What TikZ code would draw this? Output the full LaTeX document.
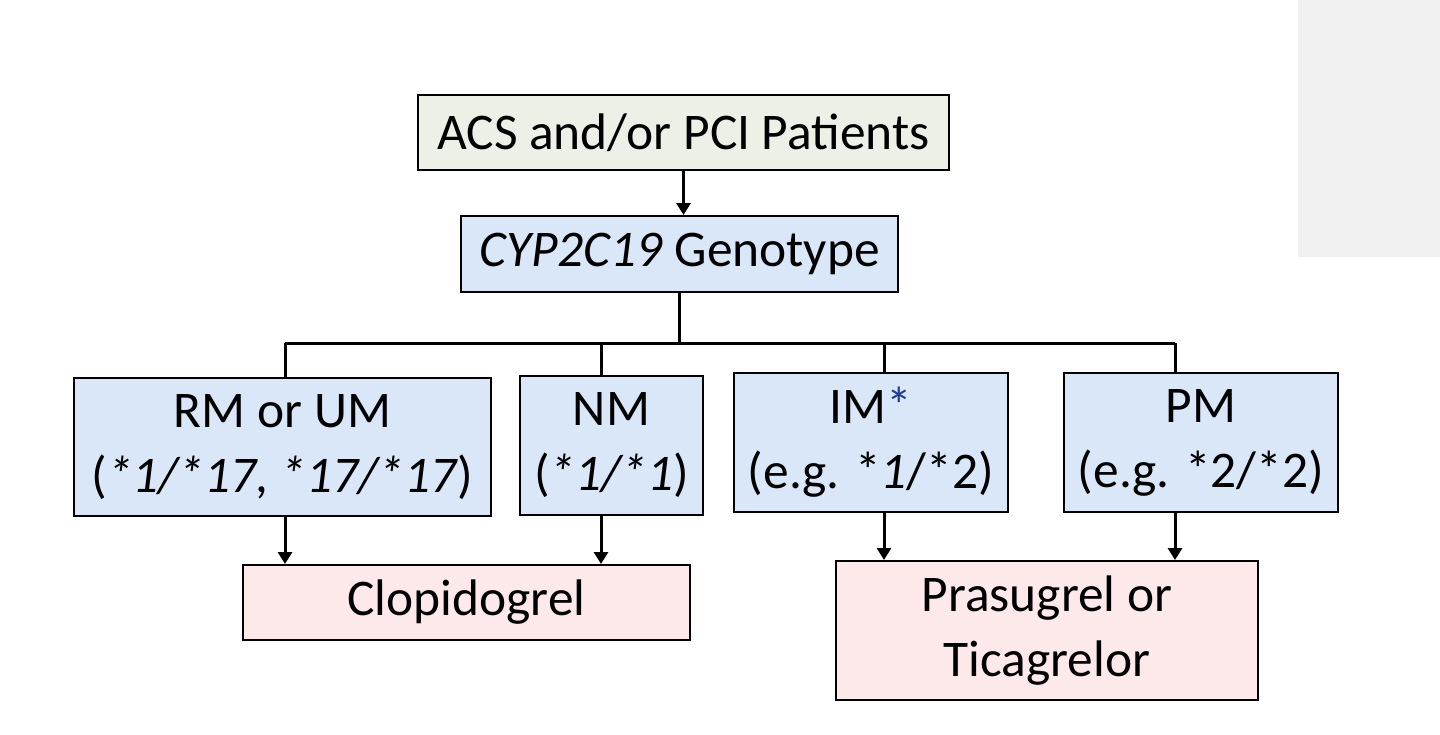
\documentclass[tikz,border=0pt]{standalone}
\usepackage{fontspec}
\setmainfont{Carlito}
\usetikzlibrary{arrows.meta}
\definecolor{boxgrey}{RGB}{237,240,230}
\definecolor{boxblue}{RGB}{218,231,248}
\definecolor{boxpink}{RGB}{253,232,234}
\definecolor{starblue}{RGB}{31,61,140}
\definecolor{cornergrey}{RGB}{240,240,240}
\begin{document}
\begin{tikzpicture}[x=0.5pt,y=-0.5pt,every node/.style={draw=black, line width=1pt, inner sep=0pt, align=center, font=\fontsize{25.7pt}{32.5pt}\selectfont},
  conn/.style={line width=1.5pt},
  arr/.style={line width=1.5pt,-{Triangle[width=7pt,length=6pt]}}]
\useasboundingbox (0,0) rectangle (1440,734);
\fill[cornergrey] (1298,0) rectangle (1440,257);
\node[fill=boxgrey,minimum width=265.5pt,minimum height=37.5pt] (patients) at (683.5,132.5) {ACS and/or PCI Patients};
\node[fill=boxblue,minimum width=218.5pt,minimum height=38pt] (geno) at (679.5,254) {\textit{CYP2C19} Genotype};
\node[fill=boxblue,minimum width=208.5pt,minimum height=69pt] (rm) at (282.5,447) {RM or UM\\(\textit{*1/*17, *17/*17})};
\node[fill=boxblue,minimum width=91.5pt,minimum height=69.5pt] (nm) at (611.5,445.5) {NM\\(\textit{*1/*1})};
\node[fill=boxblue,minimum width=137pt,minimum height=69.5pt] (im) at (871,442.5) {IM{\color{starblue}*}\\(e.g. *\textit{1}/*2)};
\node[fill=boxblue,minimum width=137pt,minimum height=69.5pt] (pm) at (1201,442.5) {PM\\(e.g. *2/*2)};
\node[fill=boxpink,minimum width=223.5pt,minimum height=37.5pt] (clop) at (466.5,602.5) {Clopidogrel};
\node[fill=boxpink,minimum width=211pt,minimum height=69.5pt] (prasu) at (1047,630.5) {Prasugrel or\\Ticagrelor};
\coordinate (b1) at (285,343);
\coordinate (b2) at (601,343);
\coordinate (b3) at (884,343);
\coordinate (b4) at (1175,343);
\draw[arr] (patients.south) -- (patients.south |- geno.north);
\draw[conn] (geno.south) -- (geno.south |- b1);
\draw[conn] (b1) -- (b4);
\draw[conn] (b1) -- (b1 |- rm.north);
\draw[conn] (b2) -- (b2 |- nm.north);
\draw[conn] (b3) -- (b3 |- im.north);
\draw[conn] (b4) -- (b4 |- pm.north);
\draw[arr] (b1 |- rm.south) -- (b1 |- clop.north);
\draw[arr] (b2 |- nm.south) -- (b2 |- clop.north);
\draw[arr] (b3 |- im.south) -- (b3 |- prasu.north);
\draw[arr] (b4 |- pm.south) -- (b4 |- prasu.north);
\end{tikzpicture}
\end{document}
